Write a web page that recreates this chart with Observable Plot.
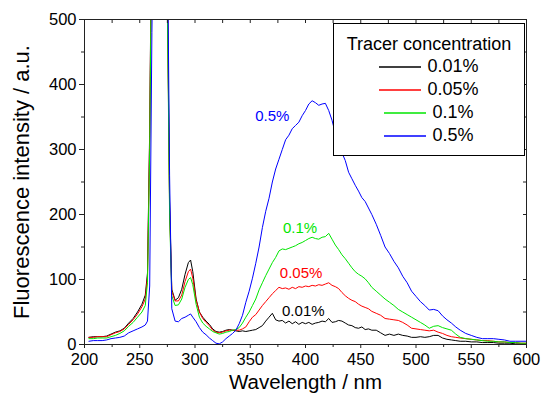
<!DOCTYPE html>
<html>
<head>
<meta charset="utf-8">
<script src="https://cdn.jsdelivr.net/npm/d3@7"></script>
<script src="https://cdn.jsdelivr.net/npm/@observablehq/plot@0.6"></script>
<style>
  html, body { margin: 0; padding: 0; background: #fff; }
  #chart { position: relative; width: 544px; height: 406px; font-family: "Liberation Sans", Arial, sans-serif; }
  #legend {
    position: absolute; left: 333px; top: 23px; width: 192px; height: 133px;
    border: 1px solid #000; background: #fff; box-sizing: border-box;
    font-size: 18px; color: #000;
  }
  #legend .title { text-align: center; margin-top: 9px; line-height: 22px; }
  #legend .row { display: flex; align-items: center; justify-content: center; height: 23px; }
  #legend .row svg { margin-right: 6px; display: block; }
  #legend .row span { line-height: 23px; }
</style>
</head>
<body>
<div id="chart"></div>
<script>
// Excitation/emission spectra for four tracer concentrations
const wavelength = [
  204, 208, 212, 216, 220, 224, 228, 232, 236, 240, 244, 248, 252, 255,
  257, 259, 261, 264, 270, 273, 275, 277, 279,
  282, 285, 288, 291, 294, 296, 298, 301, 304, 307,
  310, 313, 316, 319, 322, 325, 328, 331, 334, 337,
  340, 343, 346, 349, 352, 355, 358, 361, 364, 367,
  370, 373, 376, 379, 382, 385, 388, 391, 394, 397,
  400, 403, 406, 409, 412, 415, 418, 421, 424, 427,
  430, 433, 436, 439, 442, 445, 448, 451, 454, 457,
  460, 464, 468, 472, 476, 480, 484, 488, 492, 496,
  500, 504, 508, 512, 516, 520, 524, 528, 532, 536,
  540, 545, 550, 555, 560, 565, 570, 575, 580, 585,
  590, 595, 600
];

const conc001 = [
  11, 12, 12, 12, 13, 16, 19, 21, 25, 33, 40, 50, 62, 76,
  110, 330, 700, 900, 900, 800, 560, 220, 85,
  68, 72, 85, 108, 126, 130, 112, 70, 50, 42,
  36, 31, 24, 20, 19, 20, 22, 23, 22, 21,
  20, 21, 20, 21, 22, 23, 26, 29, 36, 42,
  48, 38, 36, 37, 33, 36, 32, 35, 31, 34,
  32, 34, 31, 33, 34, 36, 35, 40, 34, 35,
  37, 36, 33, 30, 29, 26, 25, 27, 23, 24,
  22, 22, 18, 14, 16, 14, 16, 14, 13, 11,
  11, 12, 11, 12, 14, 14, 10, 8, 7, 6,
  5, 5, 4, 4, 3, 3, 3, 2, 2, 2,
  1, 1, 1
];

const conc005 = [
  11, 11, 12, 12, 12, 15, 18, 20, 24, 31, 38, 47, 58, 70,
  104, 320, 690, 900, 900, 800, 540, 210, 82,
  67, 67, 76, 97, 112, 116, 102, 68, 50, 40,
  34, 29, 22, 19, 18, 19, 21, 22, 22, 22,
  22, 24, 27, 35, 42, 46, 53, 60, 66, 72,
  78, 83, 88, 86, 87, 85, 88, 86, 89, 88,
  90, 89, 91, 90, 92, 91, 93, 95, 91, 89,
  86, 80, 75, 71, 68, 66, 62, 59, 57, 55,
  51, 48, 45, 40, 39, 38, 37, 34, 30, 25,
  24, 23, 22, 21, 22, 19, 17, 14, 12, 11,
  10, 9, 8, 7, 6, 6, 5, 4, 4, 3,
  3, 2, 2
];

const conc01 = [
  9, 9, 10, 10, 10, 12, 14, 17, 21, 28, 34, 42, 50, 60,
  95, 300, 670, 900, 900, 790, 520, 200, 75,
  60, 61, 70, 88, 100, 103, 92, 62, 42, 33,
  28, 24, 20, 18, 16, 17, 19, 20, 22, 23,
  26, 33, 42, 50, 60, 70, 84, 95, 106, 116,
  126, 134, 144, 147, 146, 148, 150, 152, 155, 157,
  160, 163, 165, 163, 162, 165, 166, 171, 162, 153,
  146, 138, 132, 125, 118, 112, 108, 105, 101, 95,
  88, 82, 76, 70, 65, 60, 54, 50, 46, 42,
  38, 34, 30, 25, 28, 29, 26, 24, 22, 16,
  11, 9, 8, 7, 6, 5, 5, 4, 4, 3,
  3, 2, 2
];

const conc05 = [
  5, 6, 6, 6, 7, 9, 10, 11, 13, 18, 21, 24, 27, 30,
  36, 90, 480, 900, 900, 880, 640, 260, 55,
  36, 35, 40, 42, 45, 47, 42, 35, 26, 19,
  15, 10, 6, 2, 1, 4, 9, 13, 17, 22,
  32, 45, 65, 82, 102, 125, 150, 180, 205, 225,
  250, 270, 285, 300, 315, 322, 332, 337, 342, 352,
  360, 370, 375, 372, 368, 370, 371, 360, 345, 325,
  308, 295, 283, 265, 255, 245, 236, 226, 220, 210,
  200, 185, 168, 150, 140, 128, 118, 105, 95, 82,
  74, 66, 60, 53, 54, 52, 44, 38, 33, 27,
  22, 17, 14, 11, 9, 9, 9, 8, 7, 5,
  5, 5, 5
];

const seriesNames = ["0.01%", "0.05%", "0.1%", "0.5%"];
const seriesColors = ["#000000", "#ff0000", "#00e600", "#0000ff"];
const seriesValues = [conc001, conc005, conc01, conc05];

// In-plot annotation positions (wavelength, intensity) for each series
const labelWavelength = [398, 396, 395, 370];
const labelIntensity = [52, 109, 179, 352];

const xMajorTicks = [200, 250, 300, 350, 400, 450, 500, 550, 600];
const xMinorTicks = [225, 275, 325, 375, 425, 475, 525, 575];
const xTopTicks = [225, 250, 275, 300, 325, 350, 375, 400, 425, 450, 475, 500, 525, 550, 575];
const yMajorTicks = [0, 100, 200, 300, 400, 500];
const yMinorTicks = [50, 150, 250, 350, 450];
const yRightTicks = [50, 100, 150, 200, 250, 300, 350, 400, 450];

const rows = seriesNames.flatMap((name, j) =>
  wavelength.map((w, i) => ({ w, v: seriesValues[j][i], series: name, color: seriesColors[j] }))
);
const labels = seriesNames.map((name, j) => ({
  w: labelWavelength[j], v: labelIntensity[j], text: name, color: seriesColors[j]
}));

const font = "'Liberation Sans', Arial, sans-serif";

const chart = Plot.plot({
  width: 544,
  height: 406,
  marginLeft: 84,
  marginRight: 18,
  marginTop: 19,
  marginBottom: 62,
  style: { fontFamily: font, background: "#fff", color: "#000" },
  x: { domain: [200, 600] },
  y: { domain: [0, 500] },
  marks: [
    Plot.line(rows, {
      x: "w", y: "v", z: "series", stroke: "color", strokeWidth: 1, clip: true
    }),
    Plot.text(labels, {
      x: "w", y: "v", text: "text", fill: "color", fontSize: 15
    }),
    Plot.frame({ stroke: "#222", strokeWidth: 1 }),
    // bottom axis: labelled majors and unlabelled minors
    Plot.axisX(xMajorTicks, { anchor: "bottom", tickSize: 4, tickPadding: 5, fontSize: 16.5, label: null, stroke: "#222" }),
    Plot.axisX(xMinorTicks, { anchor: "bottom", tickSize: 3, text: null, label: null, stroke: "#222" }),
    // top axis: inward ticks only
    Plot.axisX(xTopTicks, { anchor: "top", tickSize: -3, text: null, label: null, stroke: "#222" }),
    // left axis
    Plot.axisY(yMajorTicks, { anchor: "left", tickSize: 5, tickPadding: 3, fontSize: 16.5, label: null, stroke: "#222" }),
    Plot.axisY(yMinorTicks, { anchor: "left", tickSize: 3, text: null, label: null, stroke: "#222" }),
    // right axis: inward ticks only
    Plot.axisY(yRightTicks, { anchor: "right", tickSize: -4, text: null, label: null, stroke: "#222" }),
    // axis titles
    Plot.text(["Wavelength / nm"], {
      frameAnchor: "bottom", dy: 44, fontSize: 20.5, fill: "#000", textAnchor: "middle"
    }),
    Plot.text(["Fluorescence intensity / a.u."], {
      frameAnchor: "left", dx: -63, rotate: -90, fontSize: 22, fill: "#000", textAnchor: "middle"
    })
  ]
});

const root = document.getElementById("chart");
root.appendChild(chart);

// legend box drawn over the top-right of the plot area
const legend = document.createElement("div");
legend.id = "legend";
const title = document.createElement("div");
title.className = "title";
title.textContent = "Tracer concentration";
legend.appendChild(title);
seriesNames.forEach((name, j) => {
  const row = document.createElement("div");
  row.className = "row";
  const sw = d3.create("svg").attr("width", 42).attr("height", 4);
  sw.append("line")
    .attr("x1", 0).attr("x2", 42).attr("y1", 2).attr("y2", 2)
    .attr("stroke", seriesColors[j]).attr("stroke-width", 1.4);
  const label = document.createElement("span");
  label.textContent = name;
  row.appendChild(sw.node());
  row.appendChild(label);
  legend.appendChild(row);
});
root.appendChild(legend);
</script>
</body>
</html>
